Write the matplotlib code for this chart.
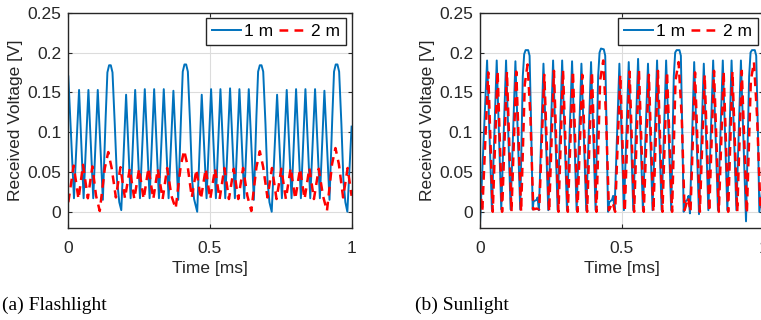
import matplotlib
matplotlib.use("Agg")
import matplotlib.pyplot as plt

# (a) Flashlight, 1 m : vertex times [ms] and voltages [V]
flash_t_1m = [0.000, 0.020, 0.038, 0.054, 0.071, 0.088, 0.104, 0.122,
              0.132, 0.138, 0.144, 0.150, 0.156, 0.164, 0.172, 0.180, 0.187,
              0.204, 0.220, 0.236, 0.253, 0.270, 0.287, 0.303, 0.320, 0.337, 0.354, 0.371, 0.388,
              0.398, 0.404, 0.410, 0.416, 0.422, 0.430, 0.437, 0.444, 0.455,
              0.471, 0.488, 0.504, 0.521, 0.537, 0.554, 0.571, 0.588, 0.604, 0.621, 0.637, 0.655,
              0.664, 0.670, 0.676, 0.682, 0.688, 0.696, 0.703, 0.710, 0.718,
              0.737, 0.754, 0.771, 0.788, 0.804, 0.821, 0.837, 0.854, 0.871, 0.888, 0.904, 0.922,
              0.932, 0.938, 0.944, 0.950, 0.956, 0.964, 0.971, 0.978, 0.985,
              1.000]
flash_v_1m = [0.170, 0.017, 0.153, 0.017, 0.153, 0.017, 0.153, 0.015,
              0.120, 0.175, 0.184, 0.184, 0.175, 0.110, 0.040, 0.012, 0.002,
              0.147, 0.017, 0.153, 0.017, 0.154, 0.017, 0.154, 0.017, 0.154, 0.017, 0.152, 0.015,
              0.120, 0.176, 0.185, 0.185, 0.176, 0.110, 0.040, 0.016, 0.000,
              0.147, 0.017, 0.154, 0.017, 0.154, 0.017, 0.155, 0.017, 0.154, 0.017, 0.154, 0.015,
              0.120, 0.176, 0.184, 0.184, 0.176, 0.110, 0.040, 0.012, 0.000,
              0.147, 0.017, 0.153, 0.017, 0.154, 0.017, 0.154, 0.017, 0.154, 0.017, 0.152, 0.015,
              0.120, 0.176, 0.185, 0.185, 0.176, 0.110, 0.040, 0.012, 0.000,
              0.107]

# (a) Flashlight, 2 m
flash_t_2m = [0.000, 0.019, 0.036, 0.052, 0.069, 0.085, 0.098, 0.111,
              0.129, 0.141, 0.153, 0.168,
              0.184, 0.200, 0.217, 0.233, 0.250, 0.266, 0.283, 0.300, 0.316, 0.333, 0.349, 0.364, 0.379,
              0.397, 0.409, 0.421, 0.436,
              0.452, 0.468, 0.485, 0.501, 0.518, 0.534, 0.551, 0.567, 0.584, 0.600, 0.617, 0.632, 0.646,
              0.664, 0.676, 0.688, 0.703,
              0.719, 0.735, 0.752, 0.768, 0.785, 0.801, 0.818, 0.834, 0.851, 0.867, 0.884, 0.899, 0.913,
              0.931, 0.943, 0.955, 0.970,
              0.986, 1.000]
flash_v_2m = [0.012, 0.058, 0.016, 0.059, 0.017, 0.057, 0.020, 0.001,
              0.055, 0.075, 0.055, 0.018,
              0.056, 0.017, 0.054, 0.016, 0.054, 0.016, 0.055, 0.016, 0.054, 0.016, 0.055, 0.020, 0.004,
              0.058, 0.077, 0.058, 0.018,
              0.053, 0.016, 0.054, 0.016, 0.054, 0.016, 0.055, 0.016, 0.054, 0.016, 0.055, 0.020, 0.001,
              0.056, 0.076, 0.056, 0.018,
              0.055, 0.016, 0.054, 0.016, 0.055, 0.016, 0.054, 0.016, 0.055, 0.016, 0.054, 0.020, 0.001,
              0.060, 0.080, 0.060, 0.018,
              0.055, 0.020]

# (b) Sunlight, 1 m
sun_t_1m = [0.000, 0.025, 0.042, 0.059, 0.075, 0.092, 0.108, 0.125, 0.142,
            0.151, 0.156, 0.161, 0.170, 0.175, 0.181, 0.186, 0.189, 0.200, 0.203, 0.208,
            0.224, 0.241, 0.258, 0.274, 0.290, 0.307, 0.325, 0.341, 0.358, 0.375, 0.392, 0.408,
            0.417, 0.422, 0.427, 0.437, 0.442, 0.447, 0.452, 0.456, 0.466, 0.470, 0.475,
            0.492, 0.508, 0.525, 0.541, 0.558, 0.575, 0.593, 0.609, 0.625, 0.641, 0.657, 0.675,
            0.684, 0.689, 0.694, 0.704, 0.709, 0.714, 0.719, 0.722, 0.732, 0.736, 0.741,
            0.756, 0.773, 0.790, 0.806, 0.823, 0.840, 0.857, 0.873, 0.888, 0.905, 0.921, 0.939,
            0.950, 0.955, 0.960, 0.970, 0.975, 0.981, 0.986, 1.000]
sun_v_1m = [-0.015, 0.190, 0.003, 0.190, 0.003, 0.190, 0.003, 0.189, 0.003,
            0.170, 0.198, 0.203, 0.203, 0.196, 0.100, 0.003, 0.013, 0.015, 0.018, 0.002,
            0.186, 0.002, 0.190, 0.002, 0.190, 0.002, 0.189, 0.002, 0.186, 0.002, 0.188, 0.002,
            0.170, 0.200, 0.205, 0.204, 0.196, 0.100, 0.000, 0.012, 0.015, 0.020, 0.002,
            0.186, 0.002, 0.188, 0.002, 0.192, 0.002, 0.186, 0.002, 0.190, 0.002, 0.190, 0.002,
            0.170, 0.200, 0.203, 0.203, 0.196, 0.100, 0.000, 0.012, 0.015, 0.020, -0.002,
            0.188, -0.003, 0.186, 0.002, 0.190, 0.002, 0.190, 0.002, 0.190, 0.002, 0.190, -0.012,
            0.170, 0.200, 0.203, 0.203, 0.196, 0.100, 0.000, 0.040]

# (b) Sunlight, 2 m
sun_t_2m = [0.000, 0.008, 0.029, 0.045, 0.062, 0.078, 0.095, 0.111, 0.128, 0.145,
            0.158, 0.168, 0.178, 0.188, 0.200, 0.209,
            0.227, 0.244, 0.261, 0.277, 0.293, 0.310, 0.328, 0.344, 0.361, 0.378, 0.395, 0.411,
            0.424, 0.435, 0.445, 0.455, 0.468, 0.477,
            0.495, 0.511, 0.528, 0.544, 0.561, 0.578, 0.596, 0.612, 0.628, 0.644, 0.660, 0.678,
            0.690, 0.701, 0.712, 0.722, 0.735, 0.743,
            0.759, 0.776, 0.793, 0.809, 0.826, 0.843, 0.860, 0.876, 0.891, 0.908, 0.924, 0.942,
            0.956, 0.967, 0.978, 0.990, 1.000]
sun_v_2m = [0.035, 0.000, 0.175, 0.000, 0.177, 0.000, 0.176, 0.000, 0.176, 0.000,
            0.160, 0.185, 0.120, 0.003, 0.004, 0.003,
            0.172, 0.000, 0.177, 0.000, 0.178, 0.000, 0.177, 0.000, 0.172, 0.000, 0.176, 0.000,
            0.165, 0.190, 0.120, 0.002, 0.012, 0.000,
            0.172, 0.000, 0.176, 0.000, 0.178, 0.000, 0.172, 0.000, 0.177, 0.000, 0.176, 0.000,
            0.165, 0.188, 0.120, 0.002, 0.018, 0.000,
            0.175, 0.000, 0.172, 0.000, 0.177, 0.000, 0.176, 0.000, 0.176, 0.000, 0.177, -0.002,
            0.165, 0.188, 0.120, 0.002, 0.010]

y_ticks = [0, 0.05, 0.1, 0.15, 0.2, 0.25]
y_tick_labels = ["0", "0.05", "0.1", "0.15", "0.2", "0.25"]
x_ticks = [0, 0.5, 1]
x_tick_labels = ["0", "0.5", "1"]
captions = ["(a) Flashlight", "(b) Sunlight"]

plt.rcParams['font.family'] = ['Liberation Sans', 'DejaVu Sans']
plt.rcParams['font.size'] = 12.5

W, H = 761, 320
fig = plt.figure(figsize=(W / 100, H / 100), dpi=100)

def make_axes(left_px):
    # MATLAB-like boxed axes, placed in pixel coords
    ax = fig.add_axes([left_px / W, 1 - 227.7 / H, 283.3 / W, 215 / H])
    ax.set_xlim(0, 1)
    ax.set_ylim(-0.02, 0.25)
    ax.set_xticks(x_ticks)
    ax.set_xticklabels(x_tick_labels)
    ax.set_yticks(y_ticks)
    ax.set_yticklabels(y_tick_labels)
    ax.grid(True, color="#dcdcdc", linewidth=0.8)
    ax.set_axisbelow(True)
    ax.tick_params(direction="in", top=True, right=True, length=3,
                   width=0.8, color="#262626", labelcolor="#262626")
    ax.tick_params(axis="x", pad=9.5)
    ax.tick_params(axis="y", pad=5)
    for s in ax.spines.values():
        s.set_color("#262626")
        s.set_linewidth(1.0)
    ax.set_xlabel("Time [ms]", color="#262626", labelpad=3.5)
    ax.set_ylabel("Received Voltage [V]", color="#262626", labelpad=3)
    return ax

panels = [(68.3, flash_t_1m, flash_v_1m, flash_t_2m, flash_v_2m),
          (480.0, sun_t_1m, sun_v_1m, sun_t_2m, sun_v_2m)]

for i, (left, t1, v1, t2, v2) in enumerate(panels):
    ax = make_axes(left)
    ax.plot(t1, v1, color="#0072BD", linewidth=1.4, label="1 m")
    ax.plot(t2, v2, color="#FF0000", linewidth=1.8, linestyle=(0, (3.5, 2.5)), label="2 m")
    leg = ax.legend(loc="upper right", ncol=2, handlelength=1.7, handletextpad=0.15,
                    columnspacing=0.35, borderpad=0.35, borderaxespad=0.3,
                    fancybox=False, framealpha=1, edgecolor="#262626")
    leg.get_frame().set_linewidth(1.0)
    fig.text((2 if i == 0 else 415) / W, 1 - 305 / H, captions[i],
             family="Liberation Serif", fontsize=14, va="center", ha="left")

fig.savefig("out.png", dpi=100)
